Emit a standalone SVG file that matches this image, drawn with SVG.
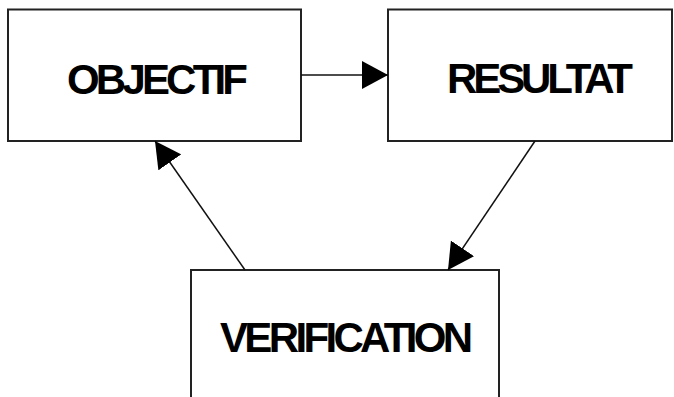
<svg xmlns="http://www.w3.org/2000/svg" width="674" height="397" viewBox="0 0 674 397">
<style>
.box{fill:#fff;stroke:#222;stroke-width:2}
.lbl{font-family:"Liberation Sans",Arial,sans-serif;font-weight:bold;font-size:42px;fill:#000}
.con{stroke:#111;stroke-width:1.5;fill:none}
</style>
<defs>
<marker id="ah" viewBox="0 0 26 28" refX="26" refY="14" markerWidth="26" markerHeight="28" markerUnits="userSpaceOnUse" orient="auto">
<path d="M0,0 L26,14 L0,28 Z" fill="#000"/>
</marker>
</defs>
<rect width="674" height="397" fill="#fff"/>
<g id="objectif">
<rect class="box" x="8" y="9.5" width="293" height="131.5"/>
<text class="lbl" x="67" y="94" textLength="181" lengthAdjust="spacing">OBJECTIF</text>
</g>
<g id="resultat">
<rect class="box" x="388" y="9.5" width="284" height="131.5"/>
<text class="lbl" x="447" y="93" textLength="186" lengthAdjust="spacing">RESULTAT</text>
</g>
<g id="verification">
<rect class="box" x="191" y="270" width="308" height="140"/>
<text class="lbl" x="220" y="352" textLength="253" lengthAdjust="spacing">VERIFICATION</text>
</g>
<g id="connectors">
<line class="con" x1="301" y1="75" x2="388" y2="75" marker-end="url(#ah)"/>
<line class="con" x1="535" y1="141" x2="448" y2="270" marker-end="url(#ah)"/>
<line class="con" x1="245" y1="270" x2="155" y2="141" marker-end="url(#ah)"/>
</g>
</svg>
